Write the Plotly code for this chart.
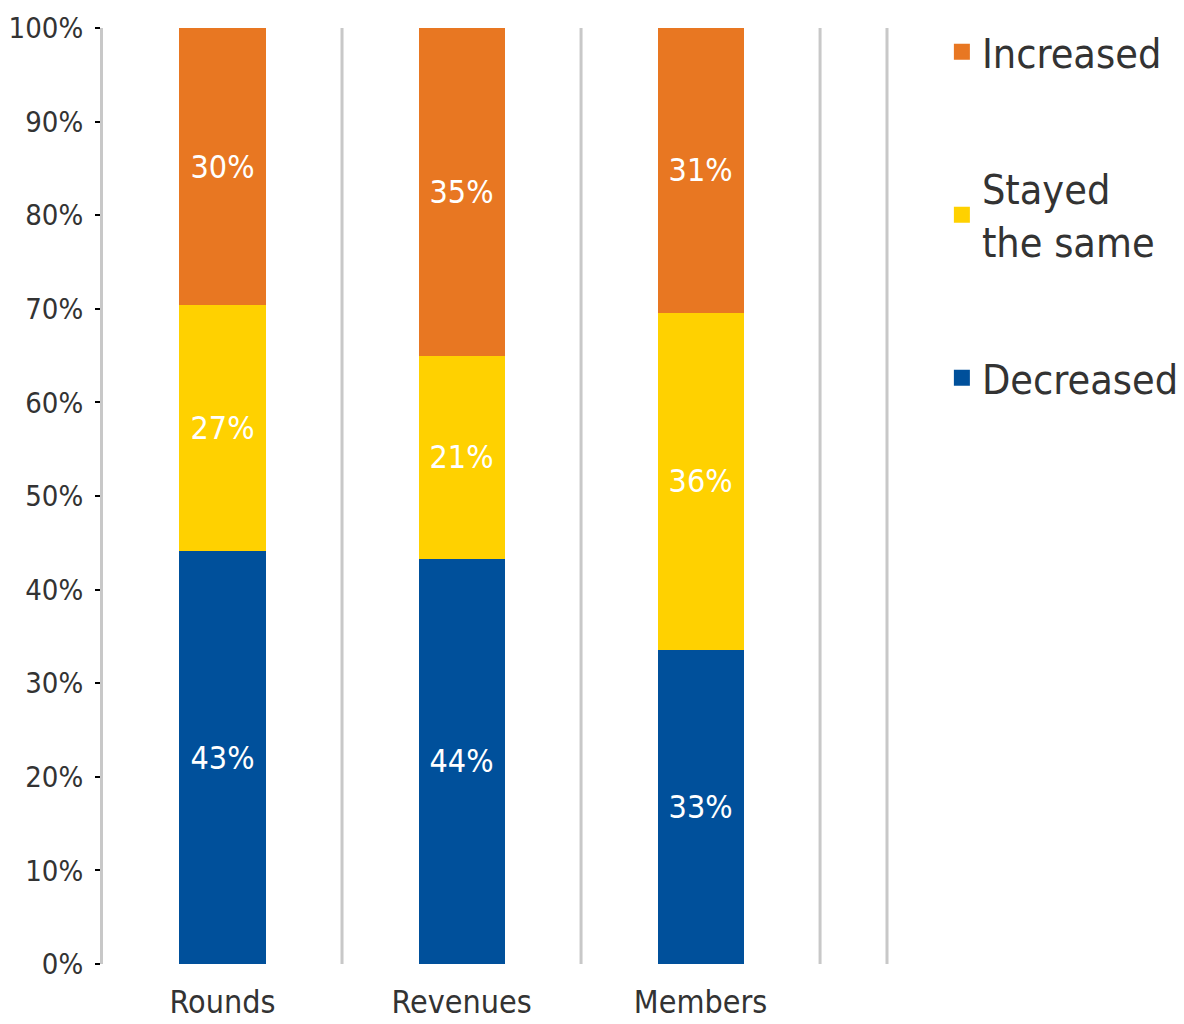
import plotly.graph_objects as go

# categorias e valores
categorias = ["Rounds", "Revenues", "Members"]
diminuiu = [44.1, 43.3, 33.5]
igual = [26.3, 21.7, 36.1]
aumentou = [29.6, 35.0, 30.4]
# rótulos impressos nas barras
txt_diminuiu = ["43%", "44%", "33%"]
txt_igual = ["27%", "21%", "36%"]
txt_aumentou = ["30%", "35%", "31%"]
ticks_y = list(range(0, 101, 10))

fonte = "DejaVu Sans Condensed, Liberation Sans Narrow, sans-serif"
largura = 0.36

fig = go.Figure()
series = [
    ("Decreased", diminuiu, txt_diminuiu, "#00509B", 3),
    ("Stayed<br>the same", igual, txt_igual, "#FFD100", 2),
    ("Increased", aumentou, txt_aumentou, "#E87722", 1),
]
for nome, valores, textos, cor, ordem in series:
    fig.add_trace(go.Bar(
        x=categorias, y=valores, name=nome, text=textos,
        marker=dict(color=cor, line=dict(width=0)), width=largura,
        textposition="inside", insidetextanchor="middle",
        textfont=dict(color="white", size=32, family=fonte),
        hoverinfo="skip", showlegend=False,
    ))
    # entrada de legenda com quadrado maior
    fig.add_trace(go.Scatter(
        x=[None], y=[None], mode="markers", name=nome, legendgroup=nome,
        legendrank=ordem, marker=dict(symbol="square", size=25, color=cor),
    ))

# linhas separadoras verticais
for xs in [0.5, 1.5, 2.5]:
    fig.add_shape(type="line", x0=xs, x1=xs, y0=0, y1=100, xref="x", yref="y",
                  line=dict(color="#c8c8c8", width=3), layer="below")
fig.add_shape(type="line", x0=1, x1=1, y0=0, y1=1, xref="paper", yref="paper",
              line=dict(color="#c8c8c8", width=3), layer="below")

fig.update_layout(
    width=1184, height=1024,
    barmode="stack",
    plot_bgcolor="white", paper_bgcolor="white",
    margin=dict(l=95, r=305, t=20, b=68, autoexpand=False),
    font=dict(family=fonte, color="#333333"),
    showlegend=True,
    legend=dict(x=1.07, y=1.01, xanchor="left", yanchor="top",
                traceorder="grouped", font=dict(size=41, color="#333333"),
                tracegroupgap=80, bgcolor="rgba(0,0,0,0)", itemwidth=30),
)
fig.update_xaxes(range=[-0.5, 2.78], showgrid=False, showline=False, ticks="",
                 tickfont=dict(size=32, color="#333333"), zeroline=False,
                 automargin=False, ticklabelstandoff=16)
fig.update_yaxes(range=[0, 100], tickvals=ticks_y, ticktext=[f"{v}%" for v in ticks_y],
                 showgrid=False, zeroline=False, showline=True, linecolor="#c8c8c8",
                 linewidth=3, ticks="outside", ticklen=5, tickwidth=2, tickcolor="black",
                 tickfont=dict(size=29, color="#333333"), automargin=False,
                 ticklabelstandoff=6)

fig.write_html("out.html")
